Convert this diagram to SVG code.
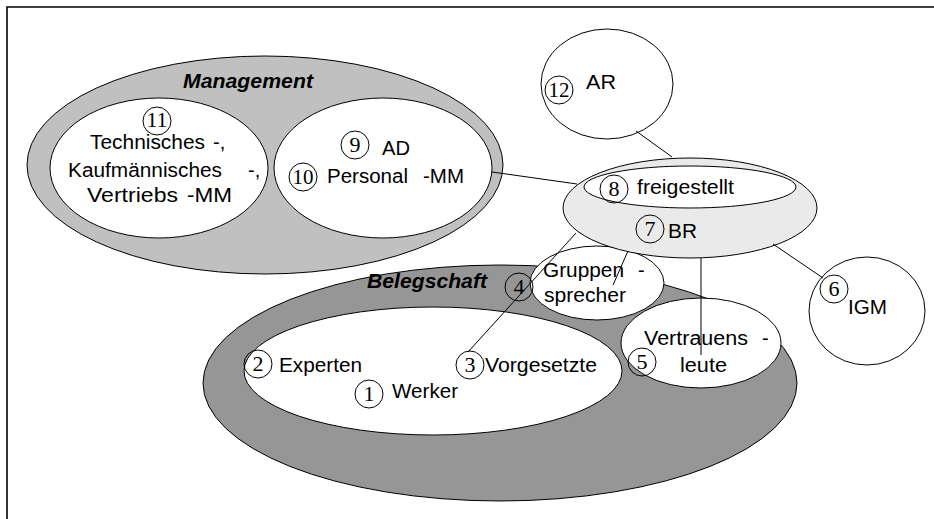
<svg xmlns="http://www.w3.org/2000/svg" width="934" height="519" viewBox="0 0 934 519">
  <style>
    .shape { stroke: #000; stroke-width: 1; }
    .white { fill: #fff; }
    .mgmt { fill: #c0c0c0; }
    .staff { fill: #969696; }
    .br { fill: #eaeaea; }
    .num { fill: none; stroke: #000; stroke-width: 1; }
    .lbl { font-family: "Liberation Sans", Arial, sans-serif; font-size: 20px; fill: #000; }
    .head { font-family: "Liberation Sans", Arial, sans-serif; font-size: 21px; font-weight: bold; font-style: italic; fill: #000; }
    .digit { font-family: "Liberation Serif", "Times New Roman", serif; font-size: 22px; fill: #000; text-anchor: middle; }
    .conn line { stroke: #000; stroke-width: 1; }
    .frame { stroke: #000; stroke-width: 1.6; fill: none; }
  </style>

  <rect width="934" height="519" fill="#fff"/>
  <path class="frame" d="M7,519 V7 H934"/>

  <!-- Management -->
  <g id="management">
    <ellipse class="shape mgmt" cx="265" cy="165" rx="238" ry="109"/>
    <text class="head" x="183" y="88" textLength="130" lengthAdjust="spacingAndGlyphs">Management</text>
  </g>
  <g id="mm-bereiche">
    <ellipse class="shape white" cx="159" cy="168" rx="109" ry="70"/>
    <ellipse class="num" cx="157" cy="121" rx="14" ry="14"/>
    <text class="digit" x="157" y="127" textLength="21" lengthAdjust="spacingAndGlyphs">11</text>
    <text class="lbl" y="149"><tspan x="90" textLength="115" lengthAdjust="spacingAndGlyphs">Technisches</tspan><tspan x="213">-,</tspan></text>
    <text class="lbl" y="177"><tspan x="68" textLength="154" lengthAdjust="spacingAndGlyphs">Kaufmännisches</tspan><tspan x="248">-,</tspan></text>
    <text class="lbl" y="202"><tspan x="87" textLength="91" lengthAdjust="spacingAndGlyphs">Vertriebs</tspan><tspan x="187" textLength="45" lengthAdjust="spacingAndGlyphs">-MM</tspan></text>
  </g>
  <g id="ad-personal">
    <ellipse class="shape white" cx="383" cy="168" rx="109" ry="70"/>
    <ellipse class="num" cx="355" cy="145" rx="14" ry="14"/>
    <text class="digit" x="355" y="152">9</text>
    <text class="lbl" x="382" y="155" textLength="28" lengthAdjust="spacingAndGlyphs">AD</text>
    <ellipse class="num" cx="303" cy="177" rx="14" ry="14"/>
    <text class="digit" x="303" y="184" textLength="21" lengthAdjust="spacingAndGlyphs">10</text>
    <text class="lbl" y="183"><tspan x="327" textLength="81" lengthAdjust="spacingAndGlyphs">Personal</tspan><tspan x="423" textLength="41" lengthAdjust="spacingAndGlyphs">-MM</tspan></text>
  </g>

  <!-- Belegschaft -->
  <g id="belegschaft">
    <ellipse class="shape staff" cx="500" cy="383" rx="297" ry="118"/>
    <text class="head" x="367" y="288" textLength="120" lengthAdjust="spacingAndGlyphs">Belegschaft</text>
  </g>
  <g id="werker">
    <ellipse class="shape white" cx="433" cy="371" rx="189" ry="64"/>
    <ellipse class="num" cx="258" cy="364" rx="14" ry="14"/>
    <text class="digit" x="258" y="371">2</text>
    <text class="lbl" x="279" y="372" textLength="83" lengthAdjust="spacingAndGlyphs">Experten</text>
    <ellipse class="num" cx="470" cy="365" rx="14" ry="14"/>
    <text class="digit" x="470" y="372">3</text>
    <text class="lbl" x="485" y="372" textLength="112" lengthAdjust="spacingAndGlyphs">Vorgesetzte</text>
    <ellipse class="num" cx="369" cy="394" rx="14" ry="14"/>
    <text class="digit" x="369" y="401">1</text>
    <text class="lbl" x="392" y="398" textLength="66" lengthAdjust="spacingAndGlyphs">Werker</text>
  </g>
  <g id="gruppensprecher">
    <ellipse class="shape white" cx="597" cy="283" rx="67" ry="37"/>
    <ellipse class="num" cx="519" cy="287" rx="14" ry="14"/>
    <text class="digit" x="519" y="294">4</text>
    <text class="lbl" y="277"><tspan x="543" textLength="81" lengthAdjust="spacingAndGlyphs">Gruppen</tspan><tspan x="638">-</tspan></text>
    <text class="lbl" x="544" y="302" textLength="82" lengthAdjust="spacingAndGlyphs">sprecher</text>
  </g>
  <g id="vertrauensleute">
    <ellipse class="shape white" cx="701" cy="343" rx="80" ry="45"/>
    <ellipse class="num" cx="642" cy="362" rx="14" ry="14"/>
    <text class="digit" x="642" y="369">5</text>
    <text class="lbl" y="345"><tspan x="644" textLength="104" lengthAdjust="spacingAndGlyphs">Vertrauens</tspan><tspan x="762">-</tspan></text>
    <text class="lbl" x="680" y="372" textLength="47" lengthAdjust="spacingAndGlyphs">leute</text>
  </g>

  <!-- Betriebsrat -->
  <g id="br">
    <ellipse class="shape br" cx="690" cy="208" rx="127" ry="50"/>
    <ellipse class="num" cx="650" cy="229" rx="14" ry="14"/>
    <text class="digit" x="650" y="236">7</text>
    <text class="lbl" x="668" y="238" textLength="29" lengthAdjust="spacingAndGlyphs">BR</text>
  </g>
  <g id="freigestellt">
    <ellipse class="shape white" cx="690" cy="187" rx="106" ry="21"/>
    <ellipse class="num" cx="614" cy="189" rx="14" ry="14"/>
    <text class="digit" x="614" y="196">8</text>
    <text class="lbl" x="637" y="194" textLength="97" lengthAdjust="spacingAndGlyphs">freigestellt</text>
  </g>
  <g id="ar">
    <ellipse class="shape white" cx="607" cy="84" rx="66" ry="55"/>
    <ellipse class="num" cx="559" cy="90" rx="14" ry="14"/>
    <text class="digit" x="559" y="97" textLength="21" lengthAdjust="spacingAndGlyphs">12</text>
    <text class="lbl" x="586" y="89" textLength="30" lengthAdjust="spacingAndGlyphs">AR</text>
  </g>
  <g id="igm">
    <ellipse class="shape white" cx="867" cy="311" rx="58" ry="54"/>
    <ellipse class="num" cx="834" cy="289" rx="14" ry="14"/>
    <text class="digit" x="834" y="296">6</text>
    <text class="lbl" x="848" y="314" textLength="39" lengthAdjust="spacingAndGlyphs">IGM</text>
  </g>

  <!-- Verbindungen -->
  <g id="connectors" class="conn">
    <line x1="492" y1="172" x2="577" y2="184"/>
    <line x1="636" y1="131" x2="672" y2="157"/>
    <line x1="773" y1="244" x2="823" y2="278"/>
    <line x1="576" y1="233" x2="468" y2="352"/>
    <line x1="628" y1="251" x2="613" y2="285"/>
    <line x1="701" y1="258" x2="701" y2="355"/>
  </g>
</svg>
